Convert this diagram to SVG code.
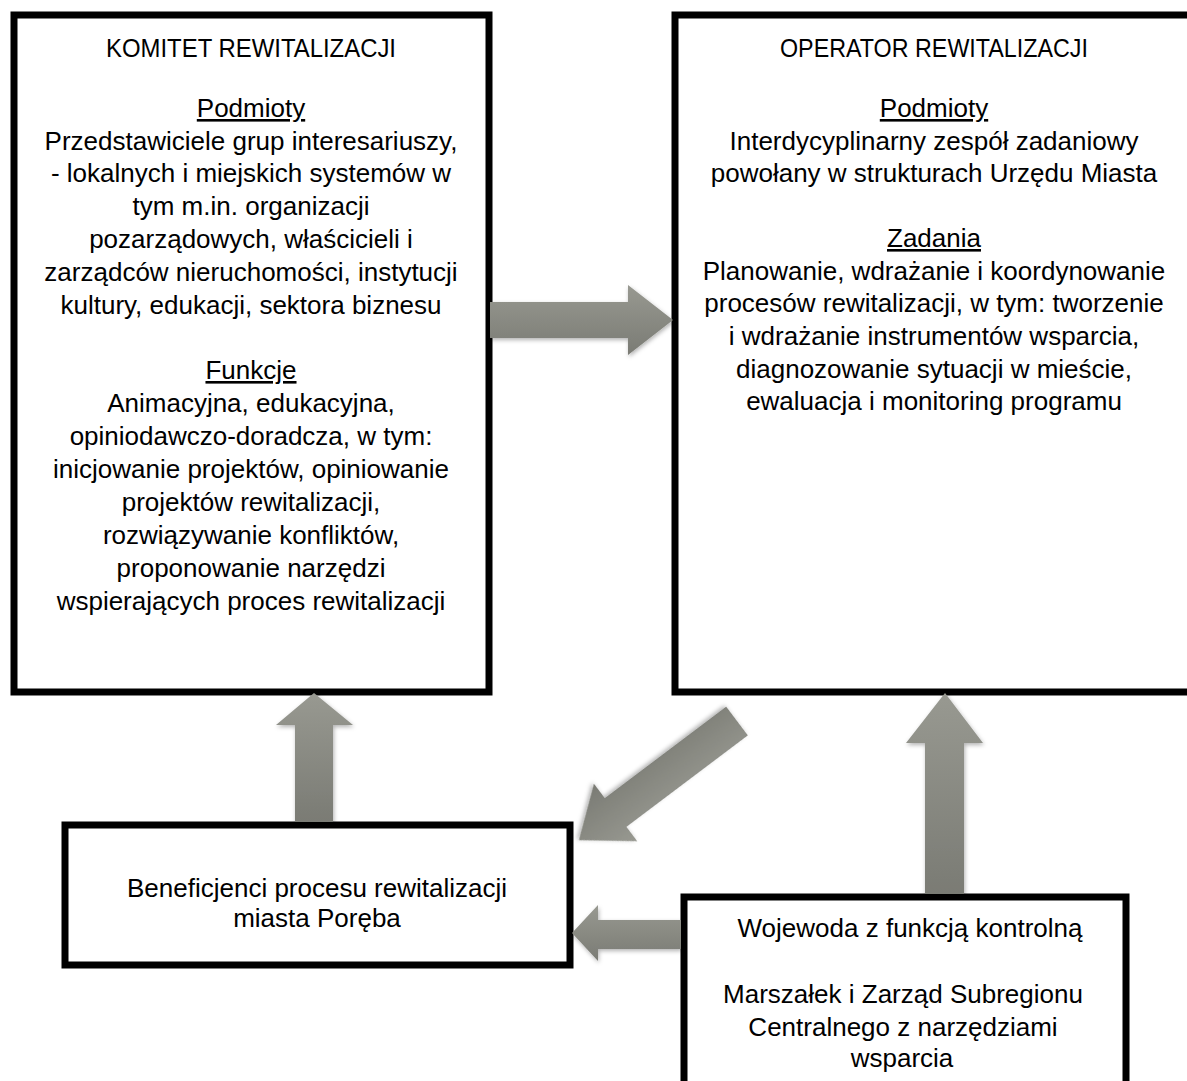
<svg xmlns="http://www.w3.org/2000/svg" width="1187" height="1081" viewBox="0 0 1187 1081">
<style>
.box{fill:#fff;stroke:#000;stroke-width:7}
.t{font-family:"Liberation Sans",Arial,sans-serif;font-size:26px;fill:#000;text-anchor:middle}
.u{text-decoration:underline}
.arr{fill:url(#g);filter:url(#sh)}
</style>
<defs>
<linearGradient id="g" x1="0" y1="0" x2="0" y2="1">
<stop offset="0" stop-color="#989991"/>
<stop offset="1" stop-color="#7a7b74"/>
</linearGradient>
<filter id="sh" x="-20%" y="-20%" width="140%" height="140%">
<feDropShadow dx="1" dy="2" stdDeviation="2" flood-color="#000" flood-opacity="0.3"/>
</filter>
</defs>
<g id="komitet">
<rect class="box" x="14" y="15" width="475" height="677"/>
<text class="t" x="251" y="57" textLength="290" lengthAdjust="spacingAndGlyphs">KOMITET REWITALIZACJI</text>
<text class="t u" x="251" y="117">Podmioty</text>
<text class="t" x="251" y="150">Przedstawiciele grup interesariuszy,</text>
<text class="t" x="251" y="182">- lokalnych i miejskich systemów w</text>
<text class="t" x="251" y="215">tym m.in. organizacji</text>
<text class="t" x="251" y="248">pozarządowych, właścicieli i</text>
<text class="t" x="251" y="281">zarządców nieruchomości, instytucji</text>
<text class="t" x="251" y="314">kultury, edukacji, sektora biznesu</text>
<text class="t u" x="251" y="379">Funkcje</text>
<text class="t" x="251" y="412">Animacyjna, edukacyjna,</text>
<text class="t" x="251" y="445">opiniodawczo-doradcza, w tym:</text>
<text class="t" x="251" y="478">inicjowanie projektów, opiniowanie</text>
<text class="t" x="251" y="511">projektów rewitalizacji,</text>
<text class="t" x="251" y="544">rozwiązywanie konfliktów,</text>
<text class="t" x="251" y="577">proponowanie narzędzi</text>
<text class="t" x="251" y="610">wspierających proces rewitalizacji</text>
</g>
<g id="operator">
<rect class="box" x="675" y="15" width="530" height="677"/>
<text class="t" x="934" y="57" textLength="308" lengthAdjust="spacingAndGlyphs">OPERATOR REWITALIZACJI</text>
<text class="t u" x="934" y="117">Podmioty</text>
<text class="t" x="934" y="150">Interdycyplinarny zespół zadaniowy</text>
<text class="t" x="934" y="182">powołany w strukturach Urzędu Miasta</text>
<text class="t u" x="934" y="247">Zadania</text>
<text class="t" x="934" y="280">Planowanie, wdrażanie i koordynowanie</text>
<text class="t" x="934" y="312">procesów rewitalizacji, w tym: tworzenie</text>
<text class="t" x="934" y="345">i wdrażanie instrumentów wsparcia,</text>
<text class="t" x="934" y="378">diagnozowanie sytuacji w mieście,</text>
<text class="t" x="934" y="410">ewaluacja i monitoring programu</text>
</g>
<g id="beneficjenci">
<rect class="box" x="65" y="825" width="505" height="140"/>
<text class="t" x="317" y="897">Beneficjenci procesu rewitalizacji</text>
<text class="t" x="317" y="927">miasta Poręba</text>
</g>
<g id="wojewoda">
<rect class="box" x="684" y="897" width="442" height="200"/>
<text class="t" x="910" y="937">Wojewoda z funkcją kontrolną</text>
<text class="t" x="903" y="1003">Marszałek i Zarząd Subregionu</text>
<text class="t" x="903" y="1036">Centralnego z narzędziami</text>
<text class="t" x="902" y="1067">wsparcia</text>
</g>
<g id="connectors">
<polygon class="arr" points="490,302 628,302 628,285 673,320 628,355 628,338 490,338"/>
<polygon class="arr" points="295,822 295,725 276,725 314,693 353,725 333,725 333,822"/>
<polygon class="arr" points="925,894 925,743 906,743 945,693 983,743 964,743 964,894"/>
<polygon class="arr" points="681,920 598,920 598,905 572,933 598,961 598,949 681,949"/>
<polygon class="arr" transform="translate(737,721) rotate(143)" points="0,-18 152,-18 152,-36 198,0 152,36 152,18 0,18"/>
</g>
</svg>
